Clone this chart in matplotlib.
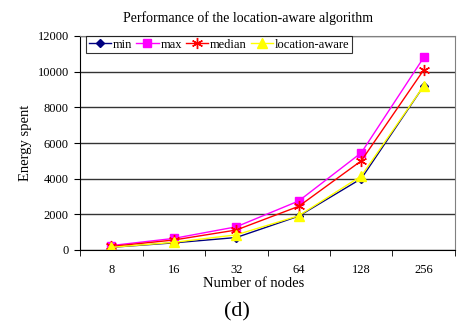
import matplotlib
matplotlib.use("Agg")
import matplotlib.pyplot as plt
import numpy as np

categories = ["8", "16", "32", "64", "128", "256"]
min_vals = [150, 400, 700, 1900, 4000, 9200]
max_vals = [250, 650, 1300, 2750, 5450, 10800]
median_vals = [200, 560, 1120, 2450, 5000, 10100]
loc_vals = [150, 430, 850, 1920, 4150, 9200]
yticks = [0, 2000, 4000, 6000, 8000, 10000, 12000]

plt.rcParams['font.family'] = ['Liberation Serif', 'DejaVu Serif']

fig = plt.figure(figsize=(4.58, 3.28), dpi=100)
W, H = 458, 328
ax = fig.add_axes([80 / W, 1 - 250 / H, 375 / W, 214 / H])

x = np.arange(len(categories))
ax.plot(x, min_vals, color='#000080', marker='D', markersize=4, lw=1, label='min')
ax.plot(x, max_vals, color='#FF00FF', marker='s', markersize=6, lw=1, label='max')
ax.plot(x, median_vals, color='#FF0000', marker=(6, 2, 0), markersize=8, lw=1, label='median')
ax.plot(x, loc_vals, color='#FFFF00', marker='^', markersize=7, lw=1, label='location-aware')

ax.set_xlim(-0.5, len(categories) - 0.5)
ax.set_ylim(0, 12000)
ax.set_yticks(yticks)
ax.set_yticklabels([str(v) for v in yticks], fontsize=9)
ax.set_xticks(x)
ax.set_xticklabels(categories, fontsize=9)
ax.set_xticks(np.arange(len(categories) + 1) - 0.5, minor=True)
ax.tick_params(axis='x', which='major', length=0, pad=10)
ax.tick_params(axis='x', which='minor', length=4, direction='out')
ax.tick_params(axis='y', length=4, direction='out', pad=4)
ax.grid(axis='y', color='#333333', lw=1)
ax.set_axisbelow(True)
for s in ['top', 'right']:
    ax.spines[s].set_color('#808080')
for s in ['left', 'bottom']:
    ax.spines[s].set_color('black')

ax.set_ylabel('Energy spent', fontsize=10.5, labelpad=4)
ax.set_xlabel('Number of nodes', fontsize=10.5, labelpad=0)
ax.xaxis.set_label_coords((254 - 80) / 375, -0.125)
ax.set_title('Performance of the location-aware algorithm', fontsize=10, pad=10,
             x=(248 - 80) / 375)

leg = ax.legend(loc='upper left', bbox_to_anchor=(0.016, 1.0), ncol=4, fontsize=9,
                frameon=True, fancybox=False, edgecolor='black', borderpad=0.2,
                handlelength=1.8, handletextpad=0.15, columnspacing=0.3, borderaxespad=0)
leg.get_frame().set_linewidth(0.8)

fig.text(237 / W, 1 - 312 / H, '(d)', ha='center', va='center', fontsize=16)

fig.savefig('out.png', dpi=100)
